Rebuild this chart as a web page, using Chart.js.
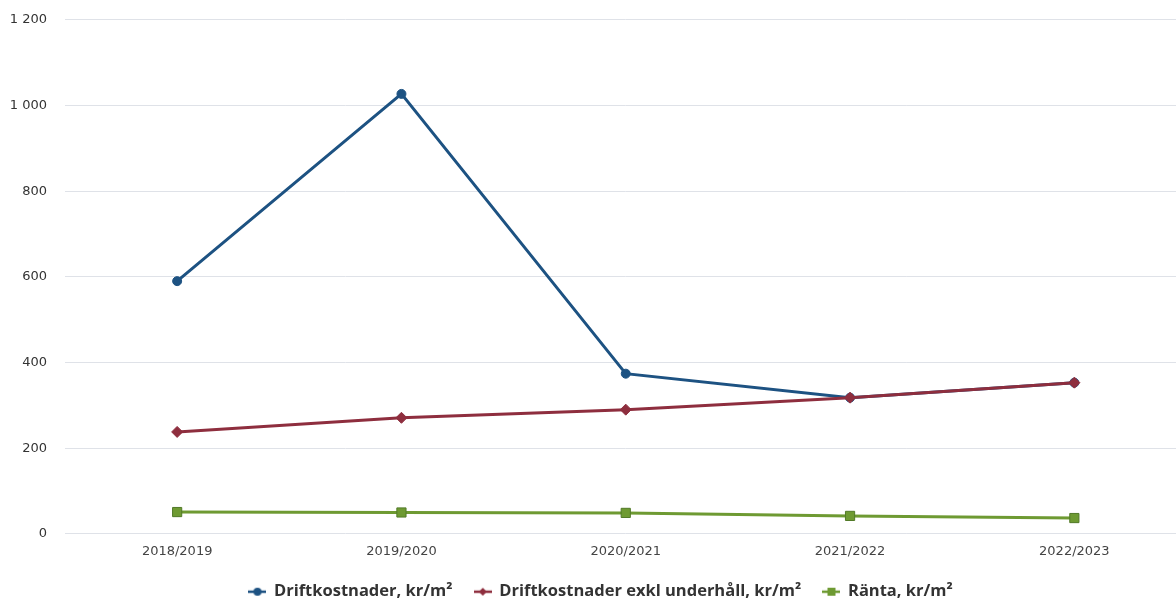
<!DOCTYPE html>
<html>
<head>
<meta charset="utf-8">
<script src="https://cdn.jsdelivr.net/npm/chart.js@4.4.1/dist/chart.umd.min.js"></script>
<style>
  html, body { margin: 0; padding: 0; background: #fff; overflow: hidden; }
  #wrap { width: 1194px; height: 616px; position: relative; margin-top: -6px; }
</style>
</head>
<body>
<div id="wrap"><canvas id="grafico"></canvas></div>
<script>
var kategorier = ['2018/2019', '2019/2020', '2020/2021', '2021/2022', '2022/2023'];
var driftkostnader = [590, 1027, 374, 318, 353];
var driftExklUnderhall = [238, 271, 290, 318, 353];
var ranta = [51, 50, 49, 42, 37];
var yTicks = [0, 200, 400, 600, 800, 1000, 1200];

function tusental(v) {
    var s = String(v);
    return s.replace(/\B(?=(\d{3})+(?!\d))/g, ' ');
}

// liten ikon för legenden: linje med markör i mitten
function legendIkon(farg, form) {
    var c = document.createElement('canvas');
    c.width = 18;
    c.height = 10;
    var g = c.getContext('2d');
    g.strokeStyle = farg;
    g.fillStyle = farg;
    g.lineWidth = 2.5;
    g.beginPath();
    g.moveTo(0, 5);
    g.lineTo(18, 5);
    g.stroke();
    g.beginPath();
    if (form === 'circle') {
        g.arc(9, 5, 4, 0, Math.PI * 2);
    } else if (form === 'rectRot') {
        g.moveTo(9, 1); g.lineTo(13, 5); g.lineTo(9, 9); g.lineTo(5, 5);
    } else {
        g.rect(5, 1, 8, 8);
    }
    g.fill();
    return c;
}

var farger = ['#1d5282', '#8e2e3e', '#6e9a32'];
var former = ['circle', 'rectRot', 'rect'];

const ctx = document.getElementById('grafico');
var myChart = new Chart(ctx, {
    type: 'line',
    data: {
        labels: kategorier,
        datasets: [{
            label: 'Driftkostnader, kr/m²',
            data: driftkostnader,
            borderColor: farger[0],
            backgroundColor: farger[0],
            borderWidth: 3,
            pointStyle: former[0],
            pointRadius: 4.5,
            pointBorderWidth: 1,
            order: 2,
            tension: 0
        }, {
            label: 'Driftkostnader exkl underhåll, kr/m²',
            data: driftExklUnderhall,
            borderColor: farger[1],
            backgroundColor: farger[1],
            borderWidth: 3,
            pointStyle: former[1],
            pointRadius: 5.5,
            pointBorderWidth: 1,
            order: 1,
            tension: 0
        }, {
            label: 'Ränta, kr/m²',
            data: ranta,
            borderColor: farger[2],
            backgroundColor: farger[2],
            pointBorderColor: '#527a28',
            borderWidth: 3,
            pointStyle: former[2],
            pointRadius: 6.5,
            pointBorderWidth: 1,
            order: 3,
            tension: 0
        }]
    },
    options: {
        responsive: true,
        maintainAspectRatio: false,
        animation: false,
        layout: { padding: { left: 8, top: 1, right: 0, bottom: 0 } },
        plugins: {
            tooltip: { enabled: false },
            legend: {
                position: 'bottom',
                labels: {
                    usePointStyle: true,
                    padding: 22,
                    color: '#333',
                    font: { family: 'Open Sans', size: 16.5, weight: 'bold' },
                    generateLabels: function (chart) {
                        var items = Chart.defaults.plugins.legend.labels.generateLabels(chart);
                        items.forEach(function (it) {
                            it.pointStyle = legendIkon(farger[it.datasetIndex], former[it.datasetIndex]);
                        });
                        items.sort(function (a, b) { return a.datasetIndex - b.datasetIndex; });
                        return items;
                    }
                }
            }
        },
        scales: {
            x: {
                offset: true,
                grid: { display: false },
                border: { display: false },
                ticks: {
                    color: '#444',
                    padding: 2,
                    font: { family: 'DejaVu Sans', size: 13 }
                }
            },
            y: {
                min: 0,
                max: 1200,
                afterBuildTicks: function (axis) {
                    axis.ticks = yTicks.map(function (v) { return { value: v }; });
                },
                afterFit: function (axis) {
                    axis.width = 57;
                },
                grid: { color: '#dfe2e8', lineWidth: 1, drawTicks: false },
                border: { display: false },
                ticks: {
                    color: '#333',
                    padding: 18,
                    font: { family: 'DejaVu Sans', size: 13 },
                    callback: function (v) { return tusental(v); }
                }
            }
        }
    }
});
</script>
</body>
</html>
